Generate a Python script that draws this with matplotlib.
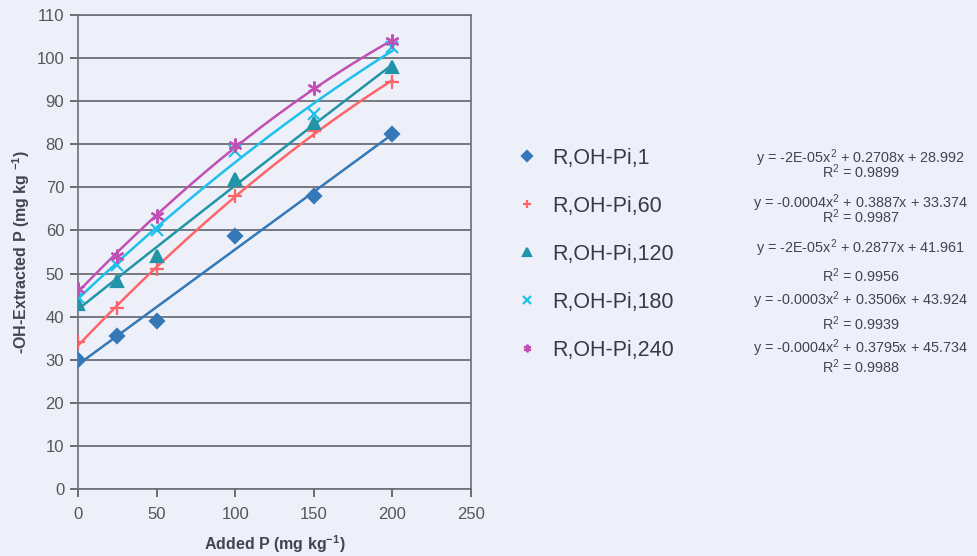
import numpy as np
import matplotlib
matplotlib.use("Agg")
import matplotlib.pyplot as plt

plt.rcParams['font.family'] = ['Liberation Sans', 'DejaVu Sans']
plt.rcParams['mathtext.default'] = 'regular'

# added P (mg/kg)
added_p = [0, 25, 50, 100, 150, 200]

# extracted P per incubation time
pi_1 = [30.0, 35.5, 39.0, 58.8, 68.0, 82.3]
pi_60 = [34.0, 42.0, 51.0, 68.0, 83.0, 94.5]
pi_120 = [43.0, 48.3, 54.0, 72.0, 85.0, 98.0]
pi_180 = [44.5, 52.0, 60.0, 78.5, 87.0, 102.5]
pi_240 = [46.5, 54.0, 63.3, 79.8, 93.0, 104.0]

labels = ['R,OH-Pi,1', 'R,OH-Pi,60', 'R,OH-Pi,120', 'R,OH-Pi,180', 'R,OH-Pi,240']
equations = [
    'y = -2E-05x$^2$ + 0.2708x + 28.992',
    'y = -0.0004x$^2$ + 0.3887x + 33.374',
    'y = -2E-05x$^2$ + 0.2877x + 41.961',
    'y = -0.0003x$^2$ + 0.3506x + 43.924',
    'y = -0.0004x$^2$ + 0.3795x + 45.734',
]
r_squared = ['0.9899', '0.9987', '0.9956', '0.9939', '0.9988']

series = [pi_1, pi_60, pi_120, pi_180, pi_240]
colors = ['#3478b8', '#ff6468', '#2194a8', '#1ec0ec', '#c050b4']
markers = ['D', '+', '^', 'x', (6, 2, 0)]
msizes = [7, 10, 8, 9, 10]

bg = '#eef0f9'
fig = plt.figure(figsize=(9.78, 5.56), dpi=100, facecolor=bg)
ax = fig.add_axes([0.0798, 0.1205, 0.4018, 0.8525], facecolor=bg)

x = np.array(added_p, dtype=float)
xs = np.linspace(0, 200, 200)
handles = []
for ys, c, m, ms, lab in zip(series, colors, markers, msizes, labels):
    # second-order trendline, as in the original spreadsheet chart
    coef = np.polyfit(x, ys, 2)
    ax.plot(xs, np.polyval(coef, xs), color=c, lw=1.8, zorder=2)
    h, = ax.plot(x, ys, linestyle='none', marker=m, color=c, markersize=ms,
                 markeredgewidth=1.6, label=lab, zorder=3)
    handles.append(h)

ax.set_xlim(0, 250)
ax.set_ylim(0, 110)
ax.set_xticks(np.arange(0, 251, 50))
ax.set_yticks(np.arange(0, 111, 10))
ax.yaxis.grid(True, color='#6e6e78', lw=1.3)
ax.set_axisbelow(True)
for s in ax.spines.values():
    s.set_color('#6e6e78')
    s.set_linewidth(1.2)
ax.tick_params(colors='#55555e', labelsize=12, length=6, width=1.2, direction='out')
ax.tick_params(axis='y', pad=4)
ax.tick_params(axis='x', pad=7)

ax.set_xlabel('Added P (mg kg$^{-1}$)', fontsize=11.5, fontweight='bold', color='#444450', labelpad=8)
ax.set_ylabel('-OH-Extracted P (mg kg $^{-1}$)', fontsize=11.5, fontweight='bold', color='#444450', labelpad=3)

leg = ax.legend(handles=handles, loc='upper left', bbox_to_anchor=(516 / 978, 1 - 148 / 556),
                bbox_transform=fig.transFigure, frameon=False, fontsize=15.5,
                borderpad=0, borderaxespad=0,
                handlelength=1.0, handletextpad=0.67, labelspacing=1.25,
                labelcolor='#3a3a44')
for h in leg.legend_handles:
    h.set_markersize(5.5)

# trendline equation blocks: centre y and gap between the two lines (px)
eq_y = [164, 209, 261, 311, 357]
eq_gap = [17, 17, 26, 23, 20]
for eq, r2, yc, gap in zip(equations, r_squared, eq_y, eq_gap):
    fig.text(861 / 978, 1 - yc / 556, eq + '\nR$^2$ = ' + r2, ha='center', va='center',
             multialignment='center', linespacing=(gap - 10.7) / 10.3, fontsize=10.4, color='#44444e')

fig.savefig('out.png', dpi=100, facecolor=bg)
